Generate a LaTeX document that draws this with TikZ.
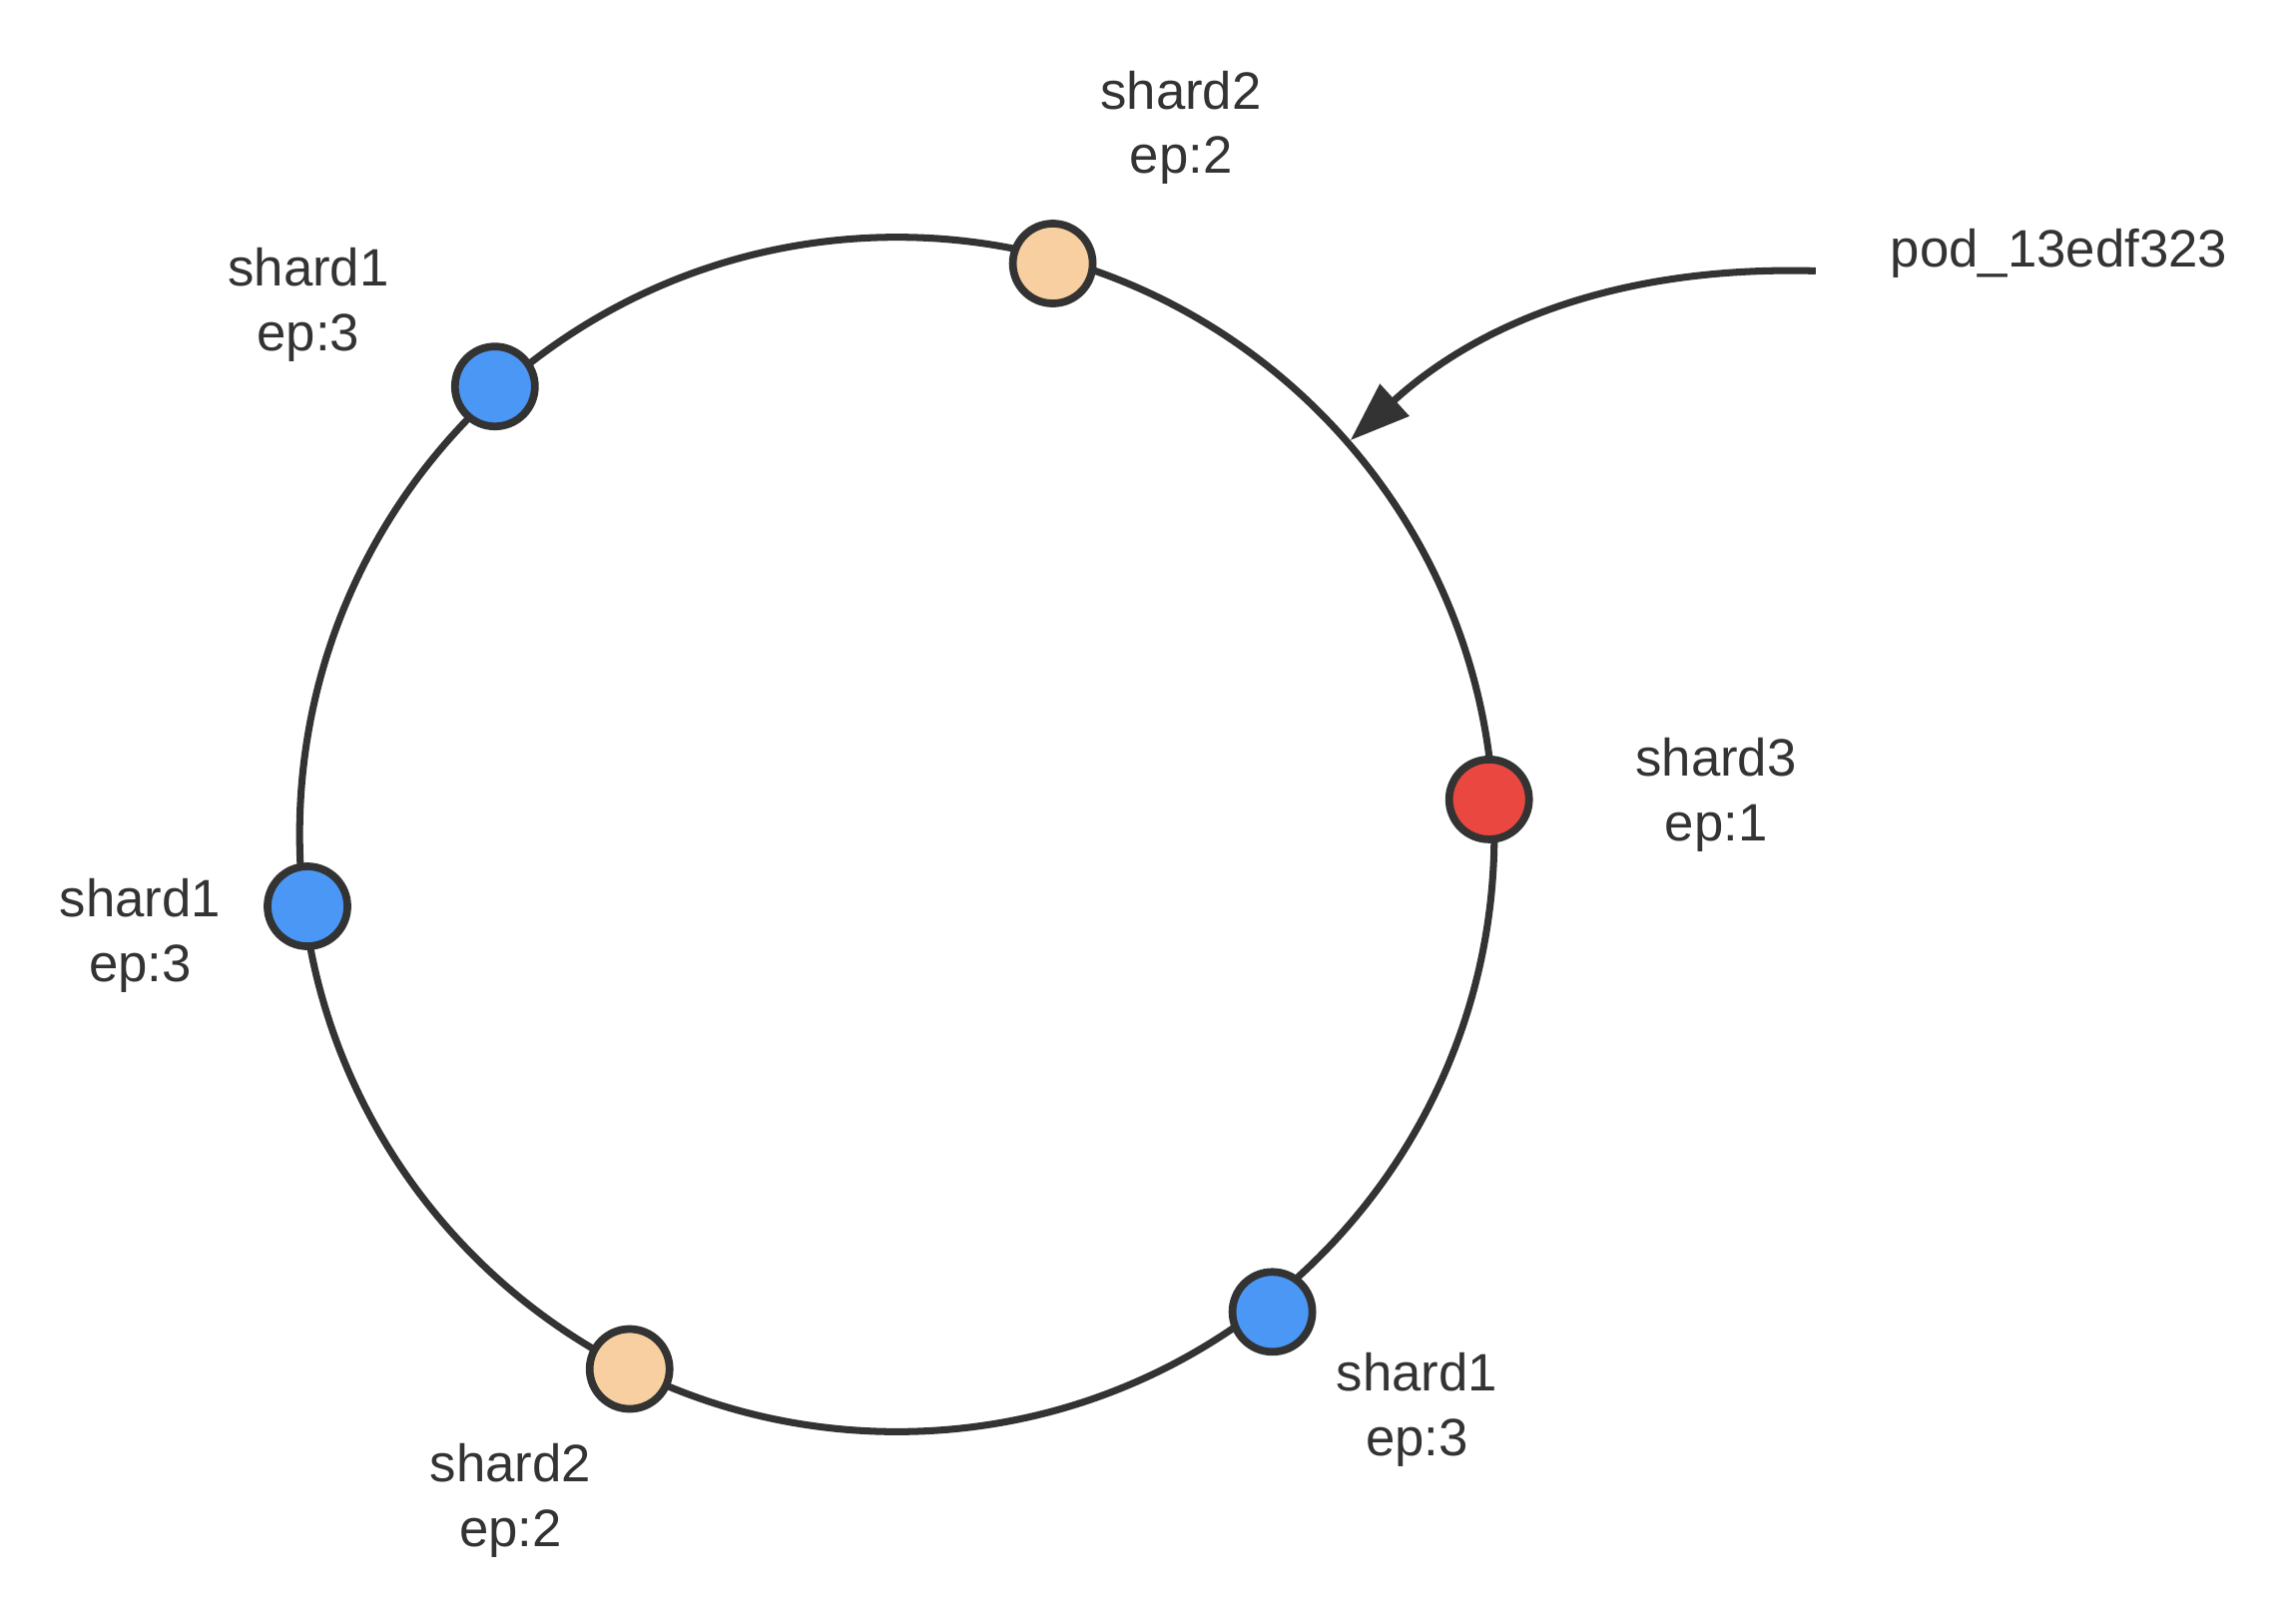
\documentclass[tikz,border=0pt]{standalone}
\usepackage{fontspec}
\setmainfont{Liberation Sans}
\usetikzlibrary{arrows.meta}
\definecolor{ink}{HTML}{333333}
\definecolor{dotblue}{HTML}{4A97F5}
\definecolor{dotred}{HTML}{E9473F}
\definecolor{dotorange}{HTML}{F7CFA0}
\begin{document}
\begin{tikzpicture}[x=0.01cm,y=-0.01cm,
  dot/.style={circle,draw=ink,line width=2.2pt,minimum size=0.8cm,inner sep=0pt},
  lbl/.style={text=ink,align=center,font=\fontsize{15}{18.4}\selectfont,inner sep=0pt},
  ringstyle/.style={circle,draw=ink,line width=2pt,minimum size=11.96cm,inner sep=0pt},
  podarrow/.style={draw=ink,line width=2pt,-{Triangle[length=6mm,width=4.2mm]}}
]
\useasboundingbox[fill=white] (0,0) rectangle (2300,1618);
\node[ringstyle] (ring) at (898.5,836) {};
% dots
\node[dot,fill=dotorange] (d1) at (1054.6,264) {};
\node[dot,fill=dotblue] (d2) at (495.8,387.2) {};
\node[dot,fill=dotblue] (d3) at (308,908) {};
\node[dot,fill=dotred] (d4) at (1491.7,800.9) {};
\node[dot,fill=dotblue] (d5) at (1274.6,1314.3) {};
\node[dot,fill=dotorange] (d6) at (630.7,1371.5) {};
% labels
\node[lbl] (l1) at (1183,128) {shard2\\ep:2};
\node[lbl] (l2) at (309,305.5) {shard1\\ep:3};
\node[lbl] (l3) at (140.5,937.5) {shard1\\ep:3};
\node[lbl] (l4) at (1719,796.5) {shard3\\ep:1};
\node[lbl] (l5) at (1419.5,1412.5) {shard1\\ep:3};
\node[lbl] (l6) at (511.5,1503.5) {shard2\\ep:2};
\node[lbl,anchor=west] (pod) at (1893,253.5) {pod\_13edf323};
% arrow
\coordinate (start) at (1818.8,271.4);
\path[podarrow] (start) .. controls (1620,266) and (1480,325) .. (ring.41);
\end{tikzpicture}
\end{document}
